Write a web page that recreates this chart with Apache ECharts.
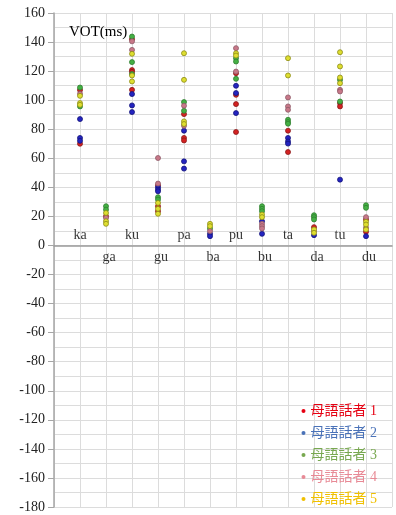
<!DOCTYPE html>
<html>
<head>
<meta charset="utf-8">
<script src="https://cdn.jsdelivr.net/npm/echarts@6/dist/echarts.min.js"></script>
<style>html,body{margin:0;padding:0;background:#fff;}#c{width:396px;height:515px;}</style>
</head>
<body>
<div id="c"></div>
<script>
const categories = ['ka','ga','ku','gu','pa','ba','pu','bu','ta','da','tu','du'];
const yTicks = [-180,-160,-140,-120,-100,-80,-60,-40,-20,0,20,40,60,80,100,120,140,160];
const speakerNames = ['母語話者 1','母語話者 2','母語話者 3','母語話者 4','母語話者 5'];
// values per category (ms), one list per speaker
const speaker1 = [[107,70],[20.1],[142,120.7,119.5,107.1],[41.4,27,23.6],[90.4,74,72.3],[],[118.6,103.7,97.3,78.1],[],[79,64.3],[12.6],[98,95.7],[17.9,9.4]];
const speaker2 = [[87,74,72],[],[104.2,96.4,91.8],[40,38.5,37.3],[79,57.9,52.9],[8,6.4],[109.9,104.9,91.1],[16.7,8],[74,71.6,70.1],[7.1],[45.3],[6.4]];
const speaker3 = [[108.7,95.7],[27,24.7],[143.8,126.2,118],[33.2,31.6],[98.7,92.7],[11.7],[128.9,126.6,114.7],[27,25.2,23.6],[86.5,84.9,83.8],[20.8,19.5,17.9],[114,99.1],[27.7,25.9]];
const speaker4 = [[104.4],[19],[140.5,134.6],[60.2,42.6],[96.2,82.4],[9.9],[135.8,119.7],[14.9,13.3,11.7],[101.9,95.7,93.4],[9.9],[107.1,106],[19.5,12.2]];
const speaker5 = [[103,98,96.8],[22.4,16.7,14.9],[131.9,117,112.9],[29.3,25.2,21.8],[132.3,114,85.4,83.6],[14.9,13.3],[132.3,130.7],[21.3,19.5],[128.9,117],[11,8.7],[133,123.2,115.6,111.7],[16.3,14.4,11]];

const speakers = [speaker1,speaker2,speaker3,speaker4,speaker5];
const fills = ['#d42222','#2424c0','#44b044','#c87888','#dede30'];
const borders = ['#8a1a1a','#14147a','#2e7e2e','#8e5a68','#8c8a18'];
const legendColors = ['#e60012','#4a72b8','#78a850','#e88a96','#f0c000'];
const serif = '"Liberation Serif","Times New Roman",serif';

const series = speakers.map((sp, s) => {
  const data = [];
  sp.forEach((vals, ci) => vals.forEach(v => data.push([ci + 1, v])));
  return {
    name: speakerNames[s], type: 'scatter',
    symbol: 'circle', symbolSize: 5, z: 3,
    itemStyle: {color: fills[s], borderColor: borders[s], borderWidth: 0.8, opacity: 1},
    data: data
  };
});

// category names drawn at the zero line, alternating above / below
series.push({
  name: 'labels', type: 'scatter', symbolSize: 1, silent: true, z: 2,
  itemStyle: {color: 'rgba(0,0,0,0)', borderWidth: 0},
  data: categories.map((c, i) => ({
    value: [i + 1, 0], name: c,
    label: {show: true, formatter: '{b}', position: i % 2 === 0 ? 'top' : 'bottom',
      distance: i % 2 === 0 ? 3 : 4, offset: i % 2 === 0 ? [0, 0] : [3, 0],
      fontFamily: serif, fontSize: 14, color: '#000'}
  }))
});

const chart = echarts.init(document.getElementById('c'));
chart.setOption({
  animation: false,
  backgroundColor: '#fff',
  title: {text: 'VOT(ms)', left: 64, top: 20, textStyle: {fontFamily: serif, fontWeight: 'normal', fontSize: 15, color: '#000'}},
  grid: {left: 54, right: 4, top: 13, bottom: 8, outerBoundsMode: 'none', containLabel: false},
  legend: {
    orient: 'vertical', right: 14, top: 399, itemGap: 8, icon: 'circle', itemWidth: 4, itemHeight: 4,
    textStyle: {fontFamily: '"Liberation Serif","Noto Sans CJK JP",serif', fontSize: 14},
    data: speakerNames.map((n, i) => ({name: n, itemStyle: {color: legendColors[i], borderWidth: 0}, textStyle: {color: legendColors[i]}}))
  },
  xAxis: {
    type: 'value', min: 0, max: categories.length + 1, interval: 1,
    axisLine: {show: true, onZero: true, lineStyle: {color: '#9a9a9a', width: 1.5}},
    axisTick: {show: false},
    axisLabel: {show: false},
    splitLine: {show: true, lineStyle: {color: '#dcdcdc', width: 1}}
  },
  yAxis: {
    type: 'value', min: yTicks[0], max: yTicks[yTicks.length - 1], interval: yTicks[1] - yTicks[0],
    axisLine: {show: true, lineStyle: {color: '#a6a6a6', width: 1.5}},
    axisTick: {show: true, length: 6, lineStyle: {color: '#a6a6a6'}},
    axisLabel: {margin: 9, fontFamily: serif, fontSize: 14, color: '#222'},
    splitLine: {show: true, lineStyle: {color: '#dcdcdc', width: 1}},
    minorTick: {show: false, splitNumber: 2},
    minorSplitLine: {show: true, lineStyle: {color: '#dcdcdc', width: 1}}
  },
  series: series
});
</script>
</body>
</html>
